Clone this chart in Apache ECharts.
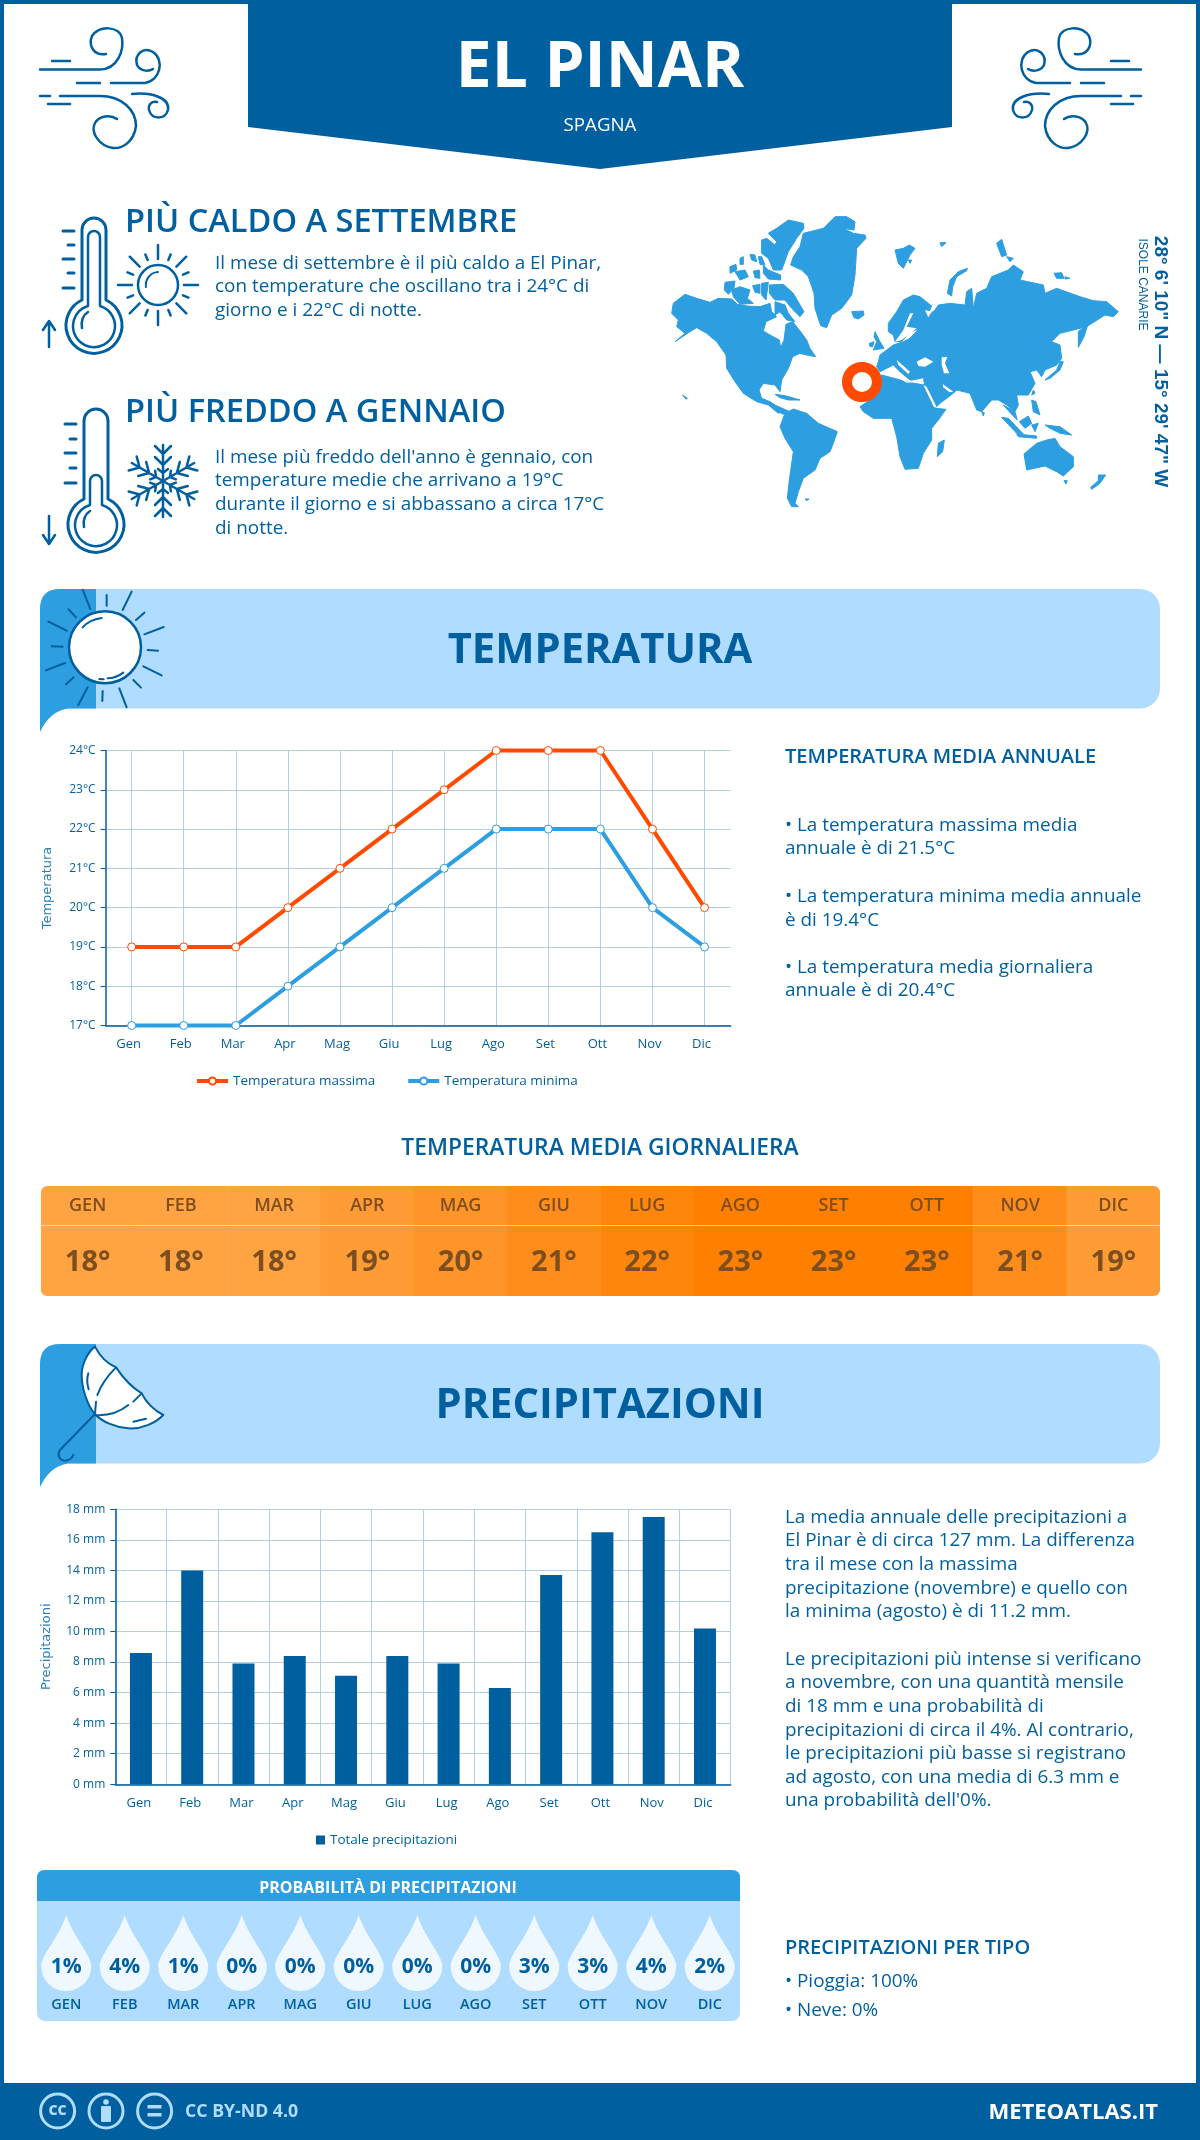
<!DOCTYPE html>
<html>
<head>
<meta charset="utf-8">
<title>El Pinar</title>
<script src="https://cdn.jsdelivr.net/npm/echarts@6/dist/echarts.min.js"></script>
<style>
html,body{margin:0;padding:0;background:#fff}
#main{width:1200px;height:2140px}
</style>
</head>
<body>
<div id="main"></div>
<script>
/**************** dati ****************/
var mesi = ['Gen','Feb','Mar','Apr','Mag','Giu','Lug','Ago','Set','Ott','Nov','Dic'];
var mesiMaiuscoli = ['GEN','FEB','MAR','APR','MAG','GIU','LUG','AGO','SET','OTT','NOV','DIC'];
var tempMassima = [19,19,19,20,21,22,23,24,24,24,22,20];
var tempMinima = [17,17,17,18,19,20,21,22,22,22,20,19];
var tempMedia = [18,18,18,19,20,21,22,23,23,23,21,19];
var precipitazioni = [8.6,14,7.9,8.4,7.1,8.4,7.9,6.3,13.7,16.5,17.5,10.2];
var probabilita = [1,4,1,0,0,0,0,0,3,3,4,2];

var BLU = '#005F9E', AZZURRO = '#2D9EDF', CHIARO = '#B0DCFF', ARANCIO = '#FF4A00', GRIGLIA = '#B2CFE4';
var FONT = '"Open Sans", sans-serif';

/**************** grafica ****************/
var g = [];
var nPath = 0;
// il componente graphic non ha il tipo path: si registra una forma per ogni tracciato
function forma(d) {
    var nome = 'tracciato' + (nPath++);
    echarts.graphic.registerShape(nome, echarts.graphic.extendPath(d, {}));
    return nome;
}
function txt(x, y, s, size, weight, color, align, rot, font) {
    g.push({type:'text', x:x, y:y+1.5, rotation:rot||0, z:5, style:{
        text:s, fill:color||BLU, font:(weight||400)+' '+size+'px '+(font||FONT),
        textAlign:align||'left', textVerticalAlign:'middle'
    }});
}
function linee(x, y, righe, size, passo) {
    for (var i=0;i<righe.length;i++) txt(x, y+i*passo, righe[i], size);
}
function tratto(d, w, col, fill, extra) {
    var o = {type:forma(d), z:3, style:{stroke:col||BLU, lineWidth:w||2.5, fill:fill||'none', lineCap:'round', lineJoin:'round'}};
    if (extra) for (var k in extra) o[k]=extra[k];
    return o;
}
// tracciato disegnato sul ritaglio ingrandito 3x
function tratto3(x0, y0, d, w, fill) {
    return tratto(d, w*3, BLU, fill, {x:x0, y:y0, scaleX:1/3, scaleY:1/3});
}

// cornice e testata
g.push({type:'rect', shape:{x:0,y:0,width:4,height:2140}, style:{fill:BLU}});
g.push({type:'rect', shape:{x:1196,y:0,width:4,height:2140}, style:{fill:BLU}});
g.push({type:'rect', shape:{x:0,y:0,width:1200,height:4}, style:{fill:BLU}});
g.push({type:'polygon', shape:{points:[[248,0],[952,0],[952,127],[600,169],[248,127]]}, style:{fill:BLU}});
g.push({type:'rect', shape:{x:0,y:2083,width:1200,height:57}, style:{fill:BLU}});
txt(600,67,'EL PINAR',64,700,'#fff','center');
txt(600,124,'SPAGNA',18.7,400,'#fff','center');

// vento
var vento = [
    'M40 69.5 L100 69.5 C118 69 124 50 122 38 C119 26 100 25 92 36 C88 46 94 56 106 54',
    'M77 83 L100 83','M111 83 L145 83 C160 81 165 60 153 52 C143 46 134 55 137 65 C140 71 148 72 153 69',
    'M52 61 L70 61','M40 96 L50 96','M60 96 L100 96 C122 96 136 110 136 126 C134 142 122 149 113 148 C99 146 90 132 95 123 C99 116 110 114 117 119',
    'M132 94 C152 92 170 98 168 110 C165 120 152 120 149 110 C148 104 152 101 157 102','M48 104 L70 104'
];
vento.forEach(function(d){
    g.push(tratto(d,2.5));
    g.push(tratto(d,2.5,BLU,'none',{x:1181,scaleX:-1}));
});

// titoli "piu caldo / piu freddo"
txt(125,221,'PIÙ CALDO A SETTEMBRE',32.6,600);
linee(215,262,['Il mese di settembre è il più caldo a El Pinar,','con temperature che oscillano tra i 24°C di','giorno e i 22°C di notte.'],18.9,23.5);
txt(125,411,'PIÙ FREDDO A GENNAIO',32.6,600);
linee(215,456,["Il mese più freddo dell'anno è gennaio, con",'temperature medie che arrivano a 19°C','durante il giorno e si abbassano a circa 17°C','di notte.'],18.9,23.6);

// termometri
function termometro(cx, top, by, ticks, innerTop) {
    g.push(tratto('M'+(cx-12)+' '+(by-26)+' L'+(cx-12)+' '+(top+12)+' A12 12 0 0 1 '+(cx+12)+' '+(top+12)+' L'+(cx+12)+' '+(by-26)+' A28 28 0 1 1 '+(cx-12)+' '+(by-26)+' Z',3));
    g.push(tratto('M'+(cx-6)+' '+(by-20)+' L'+(cx-6)+' '+(innerTop+6)+' A6 6 0 0 1 '+(cx+6)+' '+(innerTop+6)+' L'+(cx+6)+' '+(by-20)+' A21 21 0 1 1 '+(cx-6)+' '+(by-20)+' Z',2.5));
    g.push(tratto('M'+(cx-12)+' '+(by+2)+' A12 14 0 0 1 '+(cx-6)+' '+(by-14),2.5));
    ticks.forEach(function(y,i){
        g.push(tratto('M'+(i%2?cx-26:cx-31)+' '+y+' L'+(cx-20)+' '+y,3));
    });
}
termometro(94,218,326,[231,245,259,273,288],231);
termometro(96,409,525,[424,439,453,468,483],475);
g.push(tratto('M49 347 L49 322 M43 330 L49 321 L55 330',2.5));
g.push(tratto('M49 516 L49 543 M43 535 L49 544 L55 535',2.5));

// sole piccolo
g.push({type:'circle', z:3, shape:{cx:158,cy:285,r:20}, style:{fill:'none',stroke:BLU,lineWidth:2.5}});
g.push(tratto('M146 287 A13 13 0 0 1 158 272',2));
for (var a=0;a<16;a++){
    var ang=a*Math.PI/8, r1=a%2?27:26, r2=a%2?33:40;
    var c=Math.cos(ang), s=Math.sin(ang);
    g.push(tratto('M'+(158+r1*c)+' '+(285+r1*s)+' L'+(158+r2*c)+' '+(285+r2*s),2.5));
}

// fiocco di neve
for (var b=0;b<6;b++){
    var an=b*Math.PI/3+Math.PI/2;
    g.push(tratto('M0 0 L36 0 M16 0 L24 -8 M16 0 L24 8 M27 0 L35 -8 M27 0 L35 8 M8 0 L12 -5 M8 0 L12 5',2.5,BLU,'none',{x:163,y:481,rotation:an}));
}

// mappa (tracciata a mano sui ritagli 3x)
var terreOvest = [
 [[35,325],[40,295],[75,268],[110,280],[150,292],[175,280],[215,282],[232,298],[262,303],[300,305],[330,295],[335,320],[350,335],[318,350],[310,378],[330,390],[358,405],[362,428],[372,405],[378,358],[398,350],[418,375],[440,405],[450,430],[467,455],[440,450],[420,445],[398,455],[385,490],[365,525],[360,560],[345,540],[310,535],[297,555],[305,580],[330,590],[345,600],[365,618],[355,625],[325,600],[290,590],[250,565],[225,530],[200,490],[198,450],[170,410],[140,385],[110,368],[90,380],[45,410],[75,385],[50,365],[55,345]],
 [[328,240],[370,238],[400,265],[420,300],[432,320],[420,335],[395,310],[375,285],[345,285],[328,265]],
 [[215,255],[240,245],[270,255],[262,280],[280,295],[240,298],[220,275]],
 [[195,232],[225,228],[222,250],[205,268],[193,255]],
 [[278,242],[300,238],[300,265],[285,262]],
 [[305,235],[325,232],[318,285],[305,270]],
 [[345,290],[375,300],[385,325],[405,350],[380,345],[360,320],[345,330]],
 [[210,185],[228,178],[230,195],[210,205]],
 [[225,200],[255,195],[265,215],[240,225]],
 [[240,160],[250,155],[250,178],[240,178]],
 [[270,148],[285,150],[290,170],[275,165]],
 [[295,155],[305,155],[315,180],[300,178]],
 [[280,198],[298,195],[300,220],[285,218]],
 [[310,180],[325,195],[362,210],[362,225],[325,222],[310,205]],
 [[350,70],[385,45],[430,55],[432,70],[410,100],[385,140],[365,195],[340,195],[325,160],[305,145],[305,105],[320,100],[345,120],[350,110],[325,85]],
 [[490,70],[525,35],[560,35],[585,50],[582,75],[550,70],[580,85],[615,90],[618,100],[590,130],[585,210],[575,270],[545,310],[515,330],[500,368],[482,362],[465,310],[462,265],[445,215],[425,195],[392,180],[400,155],[420,125],[430,85],[470,75]],
 [[575,320],[610,318],[612,330],[595,342],[582,338]],
 [[360,665],[375,625],[400,612],[440,625],[475,655],[532,680],[520,715],[510,740],[480,760],[465,795],[430,820],[415,860],[405,895],[415,905],[395,905],[382,880],[388,825],[400,740],[375,700]],
 [[345,568],[375,572],[420,585],[385,585],[360,578]],
 [[435,882],[447,882],[440,887]],
 [[68,570],[82,580],[78,583]],
 [[340,598],[385,618],[370,628],[350,618]]
];
var terreEst = [
 [[55,395],[60,375],[100,345],[130,335],[150,325],[175,298],[150,305],[125,335],[105,335],[100,315],[85,305],[85,280],[110,245],[130,210],[160,195],[180,200],[215,228],[200,260],[225,240],[235,225],[270,220],[315,225],[320,185],[335,175],[340,235],[350,190],[380,175],[395,140],[445,120],[460,105],[490,125],[480,150],[550,165],[555,190],[590,175],[660,200],[700,212],[740,215],[775,245],[760,260],[735,255],[680,290],[660,295],[600,310],[575,335],[600,345],[605,385],[590,405],[555,420],[545,440],[530,420],[510,425],[525,460],[505,495],[470,495],[475,525],[465,545],[440,525],[415,510],[395,510],[365,545],[350,540],[330,490],[290,480],[280,490],[240,520],[225,535],[205,500],[190,465],[195,455],[150,450],[120,425],[100,405],[60,425],[50,410]],
 [[0,530],[45,500],[65,435],[140,455],[190,465],[225,535],[258,538],[235,570],[215,595],[215,630],[190,670],[175,715],[135,718],[120,680],[110,620],[95,565],[40,565],[10,545]],
 [[235,640],[253,630],[248,665],[232,680]],
 [[492,672],[530,640],[560,630],[585,625],[600,650],[640,680],[640,710],[610,738],[590,725],[555,708],[500,720]],
 [[612,752],[622,752],[618,762]],
 [[715,735],[737,735],[720,760],[695,778],[692,772],[715,752]],
 [[555,450],[590,420],[600,395],[610,395],[600,420],[570,445]],
 [[655,305],[685,280],[672,320],[655,352]],
 [[430,525],[465,545],[472,570],[452,550]],
 [[425,562],[445,565],[490,612],[470,610]],
 [[470,612],[530,618],[530,625],[475,620]],
 [[478,575],[505,558],[515,580],[495,595]],
 [[515,585],[535,580],[525,605]],
 [[515,510],[528,515],[540,555],[520,545]],
 [[555,585],[600,590],[635,615],[600,610],[570,595]],
 [[520,480],[525,490],[515,495]],
 [[365,545],[373,548],[370,558]],
 [[105,60],[130,55],[148,45],[165,55],[150,75],[130,115],[115,100]],
 [[145,90],[155,90],[150,100]],
 [[240,38],[258,38],[245,50]],
 [[262,190],[270,150],[295,125],[322,115],[320,122],[290,140],[278,170],[275,198]],
 [[410,40],[425,28],[440,75],[425,80]],
 [[440,80],[460,85],[450,95]],
 [[582,130],[605,128],[612,145],[590,145]],
 [[615,140],[630,145],[615,147]],
 [[45,305],[60,335],[72,355],[40,360],[50,335],[42,320]],
 [[28,340],[42,335],[38,350],[30,350]]
];
var mariEst = [
 [[68,432],[100,422],[115,432],[140,455],[190,445],[190,455],[140,458],[105,437]],
 [[170,395],[195,382],[220,395],[195,410],[175,408]],
 [[110,390],[150,425],[145,432],[115,405]],
 [[245,382],[262,380],[255,400],[268,430],[252,430],[245,405]],
 [[190,465],[200,470],[230,532],[222,532]],
 [[248,462],[280,485],[268,487],[250,472]],
 [[150,250],[160,250],[140,290],[170,295],[125,330],[105,335],[130,300]],
 [[195,240],[215,245],[205,262]]
];
var bordoTerra = {fill:AZZURRO, stroke:AZZURRO, lineWidth:3, lineJoin:'round'};
terreOvest.forEach(function(p){
    g.push({type:'polygon', x:660, y:205, scaleX:1/3, scaleY:1/3, shape:{points:p}, style:bordoTerra});
});
terreEst.forEach(function(p){
    g.push({type:'polygon', x:860, y:230, scaleX:1/3, scaleY:1/3, shape:{points:p}, style:bordoTerra});
});
mariEst.forEach(function(p){
    g.push({type:'polygon', x:860, y:230, z:1, scaleX:1/3, scaleY:1/3, shape:{points:p}, style:{fill:'#fff'}});
});
g.push({type:'circle', z:2, shape:{cx:862,cy:382,r:15}, style:{fill:'#fff',stroke:ARANCIO,lineWidth:10}});
txt(1160,360,'28° 6\' 10" N — 15° 29\' 47" W',19,700,BLU,'center',-Math.PI/2,'"Liberation Sans", sans-serif');
txt(1142,283,'ISOLE CANARIE',12,400,BLU,'center',-Math.PI/2,'"Liberation Sans", sans-serif');

// fasce di sezione
function fascia(top, titolo) {
    g.push({type:'rect', shape:{x:40,y:top,width:1120,height:119.5,r:20}, style:{fill:CHIARO}});
    g.push({type:forma('M40 '+(top+143)+' L40 '+(top+20)+' Q40 '+top+' 60 '+top+' L96 '+top+' L96 '+(top+119.5)+' L68 '+(top+119.5)+' Q50 '+(top+122)+' 40 '+(top+143)+' Z'), z:1, style:{fill:AZZURRO}});
    txt(600,top+61,titolo,41.7,700,BLU,'center');
}
fascia(589,'TEMPERATURA');
fascia(1344,'PRECIPITAZIONI');

// sole grande
g.push({type:'circle', z:3, shape:{cx:105,cy:647.3,r:36}, style:{fill:'#fff',stroke:BLU,lineWidth:2.5}});
g.push(tratto3(36,585,'M140 127 C155 110 175 102 197 99 M215 280 C235 280 250 272 262 263 M190 282 L203 283',2));
[[140,14,163,72],[212,30,212,62],[287,20,260,75],[325,83,300,105],[383,126,325,148],[335,195,366,197],[322,244,377,271],[292,285,315,308],[250,310,272,367],[200,318,199,348],[155,307,127,360],[113,277,90,298],[87,234,30,256],[80,185,47,184],[92,137,37,110],[120,97,98,73]].forEach(function(q){
    g.push(tratto3(36,585,'M'+q[0]+' '+q[1]+' L'+q[2]+' '+q[3],2));
});

// ombrello
g.push(tratto3(40,1340,'M165 20 C180 50 205 72 228 82 C250 115 280 145 305 160 C320 190 345 212 370 225 C345 250 305 268 265 265 C225 262 185 245 165 222 C140 195 125 140 125 105 C125 70 145 35 165 20 Z',2,'#fff'));
g.push(tratto3(40,1340,'M228 82 C205 105 185 130 172 165 M168 185 L165 222 M165 225 C205 228 240 215 265 195 M280 185 L305 160 M280 245 L318 236 M145 100 C140 115 142 135 146 148',2));
g.push(tratto3(40,1340,'M165 222 L60 330 C50 345 60 362 75 362 C88 362 97 352 100 345',2));

// testi a destra
txt(785,756,'TEMPERATURA MEDIA ANNUALE',20,600);
linee(785,824,['• La temperatura massima media','annuale è di 21.5°C'],18.9,23.6);
linee(785,895.5,['• La temperatura minima media annuale','è di 19.4°C'],18.9,23.6);
linee(785,966,['• La temperatura media giornaliera','annuale è di 20.4°C'],18.9,23.6);
txt(600,1147,'TEMPERATURA MEDIA GIORNALIERA',22.8,600,BLU,'center');
linee(785,1516,['La media annuale delle precipitazioni a','El Pinar è di circa 127 mm. La differenza','tra il mese con la massima','precipitazione (novembre) e quello con','la minima (agosto) è di 11.2 mm.'],18.9,23.6);
linee(785,1658,['Le precipitazioni più intense si verificano','a novembre, con una quantità mensile','di 18 mm e una probabilità di','precipitazioni di circa il 4%. Al contrario,','le precipitazioni più basse si registrano','ad agosto, con una media di 6.3 mm e',"una probabilità dell'0%."],18.9,23.6);
txt(785,1946.5,'PRECIPITAZIONI PER TIPO',20,600);
txt(785,1980,'• Pioggia: 100%',18.9);
txt(785,2009,'• Neve: 0%',18.9);

// scheda probabilita
g.push({type:'rect', shape:{x:37,y:1870,width:703,height:151,r:8}, style:{fill:CHIARO}});
g.push({type:forma('M37 1901 L37 1878 Q37 1870 45 1870 L732 1870 Q740 1870 740 1878 L740 1901 Z'), z:1, style:{fill:AZZURRO}});
txt(388,1887,'PROBABILITÀ DI PRECIPITAZIONI',16,700,'#fff','center');

// angoli arrotondati della striscia
g.push({type:'rect', z:100, shape:{x:39,y:1184,width:1123,height:114,r:8}, style:{fill:'none',stroke:'#fff',lineWidth:4}});

// piede
[57.6,106,154.6].forEach(function(x){
    g.push({type:'circle', z:3, shape:{cx:x,cy:2111,r:17}, style:{fill:'none',stroke:CHIARO,lineWidth:3}});
});
txt(57.6,2110,'CC',14,800,CHIARO,'center');
g.push({type:'circle', z:3, shape:{cx:106,cy:2102,r:2.8}, style:{fill:CHIARO}});
g.push({type:'rect', z:3, shape:{x:101,y:2106,width:10,height:16,r:1}, style:{fill:CHIARO}});
g.push({type:'rect', z:3, shape:{x:147.5,y:2105,width:14,height:3.5}, style:{fill:CHIARO}});
g.push({type:'rect', z:3, shape:{x:147.5,y:2113,width:14,height:3.5}, style:{fill:CHIARO}});
txt(185,2110.5,'CC BY-ND 4.0',17.7,700,CHIARO);
txt(1158,2111,'METEOATLAS.IT',22,700,'#fff','right');

/**************** grafici ****************/
var etichetta = {color:BLU, fontFamily:FONT, fontSize:12};
var griglia = {lineStyle:{color:GRIGLIA, width:1}};
var nomeAsse = {color:'#2B7DB8', fontFamily:'"DejaVu Sans", sans-serif', fontSize:13};
var linea = {lineStyle:{color:BLU, width:1.5}};

var chart = echarts.init(document.getElementById('main'));
var option = {
    animation:false,
    graphic:{elements:g},
    visualMap:{show:false, seriesIndex:[3,4], dimension:2, min:18, max:23, inRange:{color:['#FFA343','#FF7F00']}},
    legend:[
        {top:1074, left:195, padding:0, itemWidth:31, itemHeight:9, itemGap:31, lineStyle:{width:4}, data:['Temperatura massima','Temperatura minima'], textStyle:{color:BLU,fontFamily:FONT,fontSize:13.5}},
        {top:1833, left:316, padding:0, itemWidth:9, itemHeight:9, data:[{name:'Totale precipitazioni',icon:'rect'}], textStyle:{color:BLU,fontFamily:FONT,fontSize:13.5}}
    ],
    grid:[
        {left:105.6, top:750.5, width:625, height:275},
        {left:115.3, top:1509.3, width:615.3, height:275},
        {left:41, top:1186, width:1119, height:39},
        {left:41, top:1226, width:1119, height:70},
        {left:37, top:1915, width:702, height:76}
    ],
    xAxis:[
        {gridIndex:0, type:'category', data:mesi, axisLine:linea, axisTick:{show:false},
         axisLabel:Object.assign({},etichetta,{margin:12, padding:[0,6,0,0], fontSize:13}),
         splitLine:Object.assign({show:true, alignWithLabel:true},griglia)},
        {gridIndex:1, type:'category', data:mesi, axisLine:linea, axisTick:{show:false},
         axisLabel:Object.assign({},etichetta,{margin:12, padding:[0,4,0,0], fontSize:13}),
         splitLine:Object.assign({show:true},griglia)},
        {gridIndex:2, type:'category', data:mesiMaiuscoli, show:false},
        {gridIndex:3, type:'category', data:mesiMaiuscoli, show:false},
        {gridIndex:4, type:'category', data:mesiMaiuscoli, axisLine:{show:false}, axisTick:{show:false},
         axisLabel:{color:BLU, fontFamily:FONT, fontWeight:600, fontSize:14.5, margin:6}}
    ],
    yAxis:[
        {gridIndex:0, type:'value', min:17, max:24, interval:1, name:'Temperatura', nameLocation:'middle', nameGap:51, nameTextStyle:nomeAsse,
         axisLine:Object.assign({show:true},linea), axisTick:{show:true, length:5, lineStyle:{color:BLU}},
         axisLabel:Object.assign({margin:10, formatter:'{value}°C'},etichetta), splitLine:griglia},
        {gridIndex:1, type:'value', min:0, max:18, interval:2, name:'Precipitazioni', nameLocation:'middle', nameGap:62, nameTextStyle:nomeAsse,
         axisLine:Object.assign({show:true},linea), axisTick:{show:true, length:5, lineStyle:{color:BLU}},
         axisLabel:Object.assign({margin:10, formatter:'{value} mm'},etichetta), splitLine:griglia},
        {gridIndex:2, type:'category', data:['mese'], show:false},
        {gridIndex:3, type:'category', data:['gradi'], show:false},
        {gridIndex:4, type:'category', data:['prob'], show:false}
    ],
    series:[
        {name:'Temperatura massima', type:'line', xAxisIndex:0, yAxisIndex:0, data:tempMassima, symbol:'circle', symbolSize:8,
         lineStyle:{color:ARANCIO,width:4}, itemStyle:{color:'#fff',borderColor:ARANCIO,borderWidth:1}, clip:false},
        {name:'Temperatura minima', type:'line', xAxisIndex:0, yAxisIndex:0, data:tempMinima, symbol:'circle', symbolSize:8,
         lineStyle:{color:AZZURRO,width:4}, itemStyle:{color:'#fff',borderColor:AZZURRO,borderWidth:1}, clip:false},
        {name:'Totale precipitazioni', type:'bar', xAxisIndex:1, yAxisIndex:1, data:precipitazioni, barWidth:22, itemStyle:{color:BLU}},
        {type:'heatmap', xAxisIndex:2, yAxisIndex:2, data:tempMedia.map(function(v,i){return [i,0,v];}),
         label:{show:true, color:'#7D4E1E', fontFamily:FONT, fontWeight:600, fontSize:18, formatter:function(p){return mesiMaiuscoli[p.data[0]];}}},
        {type:'heatmap', xAxisIndex:3, yAxisIndex:3, data:tempMedia.map(function(v,i){return [i,0,v];}),
         label:{show:true, offset:[0,2], color:'#7D4E1E', fontFamily:FONT, fontWeight:700, fontSize:29, formatter:function(p){return p.data[2]+'°';}}},
        {type:'scatter', xAxisIndex:4, yAxisIndex:4, data:probabilita.map(function(v,i){return [i,0,v];}), clip:false,
         symbol:'path://M25 0 C32 22 50 40 50 51 C50 65 39 76 25 76 C11 76 0 65 0 51 C0 40 18 22 25 0 Z', symbolSize:[50,76],
         itemStyle:{color:'#F0F8FF',opacity:1},
         label:{show:true, position:'inside', offset:[0,14], color:BLU, fontFamily:FONT, fontWeight:700, fontSize:21, formatter:function(p){return p.data[2]+'%';}}}
    ]
};
chart.setOption(option);
</script>
</body>
</html>
